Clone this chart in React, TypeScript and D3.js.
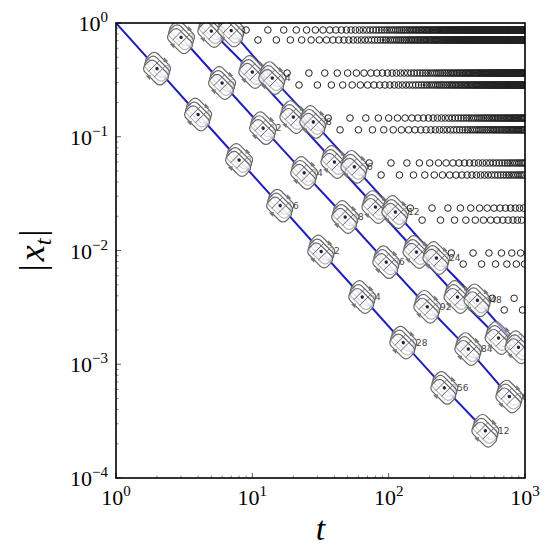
import React from 'react';
import * as d3 from 'd3';

// ---------- data ----------
const xTickExps = [0, 1, 2, 3];
const yTickExps = [0, -1, -2, -3, -4];

// four power-law trajectories (marker points), t = k * 2^n
const line1T = [2, 4, 8, 16, 32, 64, 128, 256, 512];
const line1Y = [0.397, 0.157, 0.0625, 0.0248, 0.0098, 0.0039, 0.00155, 0.00062, 0.00026];
const line1HeadT = 1;
const line1HeadY = 1;
const line2T = [3, 6, 12, 24, 48, 96, 192, 384, 768];
const line2Y = [0.75, 0.297, 0.119, 0.0481, 0.0197, 0.0079, 0.0032, 0.00136, 0.00052];
const line3T = [5, 10, 20, 40, 80, 160, 320, 640];
const line3Y = [0.85, 0.371, 0.149, 0.06, 0.0241, 0.0097, 0.0039, 0.0017];
const line4T = [7, 14, 28, 56, 112, 224, 448, 896];
const line4Y = [0.86, 0.328, 0.135, 0.0544, 0.0218, 0.0086, 0.00365, 0.00141];

// bounded orbits: bands of open circles (two alternating levels each)
const bandStartT = [9, 18, 36, 72, 144, 288, 576];
const bandStepT = [2, 4, 8, 16, 32, 64, 128];
const bandUpperY = [0.868, 0.363, 0.146, 0.0588, 0.0236, 0.0095, 0.0038];
const bandLowerY = [0.709, 0.285, 0.115, 0.0461, 0.0185, 0.0076, 0.003];
const tMax = 1000;

// ---------- layout ----------
const W = 550;
const H = 550;
const L = 116, R = 525, T = 23, B = 478;
const FONT = '"Liberation Serif", "DejaVu Serif", serif';

const x = d3.scaleLog().domain([1, 1000]).range([L, R]);
const y = d3.scaleLog().domain([1e-4, 1]).range([B, T]);

const BLUE = '#1f1fbf';
const MK = '#666666';

function Marker({ cx, cy }: { cx: number; cy: number }) {
  const offs = [-1, 0, 1];
  return (
    <g transform={`translate(${cx},${cy}) rotate(45)`}>
      {offs.map((o) => (
        <rect key={o} x={-13 + o * 2} y={-7.5 + o * 3.5} width={26} height={15} rx={5}
          fill="#ffffff" fillOpacity={0.55} stroke={MK} strokeWidth={1.2} />
      ))}
      <line x1={-4} y1={-8} x2={-4} y2={8} stroke={MK} strokeWidth={0.9} />
      <line x1={4} y1={-8} x2={4} y2={8} stroke={MK} strokeWidth={0.9} />
      <path d="M-3,-13 L3,-13 L0,-9 Z" fill="#777" />
      <path d="M-3,13 L3,13 L0,9 Z" fill="#777" />
      <circle r={1.7} fill="#222244" />
    </g>
  );
}

export default function App() {
  const lines = [
    { t: [line1HeadT, ...line1T], v: [line1HeadY, ...line1Y], mt: line1T, mv: line1Y },
    { t: line2T, v: line2Y, mt: line2T, mv: line2Y },
    { t: line3T, v: line3Y, mt: line3T, mv: line3Y },
    { t: line4T, v: line4Y, mt: line4T, mv: line4Y },
  ];
  const lineGen = d3.line<[number, number]>().x((d) => x(d[0])).y((d) => y(d[1]));

  const circles: { cx: number; cy: number }[] = [];
  bandStartT.forEach((s, j) => {
    let i = 0;
    for (let t = s; t <= tMax; t += bandStepT[j]) {
      const v = i % 2 === 0 ? bandUpperY[j] : bandLowerY[j];
      circles.push({ cx: x(t), cy: y(v) });
      i++;
    }
  });

  const minorX: number[] = [];
  for (let e = 0; e < 3; e++) for (let k = 2; k <= 9; k++) minorX.push(k * Math.pow(10, e));
  const minorY: number[] = [];
  for (let e = -4; e < 0; e++) for (let k = 2; k <= 9; k++) minorY.push(k * Math.pow(10, e));

  const markers: { cx: number; cy: number; t: number }[] = [];
  lines.forEach((ln) => ln.mt.forEach((t, i) => markers.push({ cx: x(t), cy: y(ln.mv[i]), t })));

  return (
    <svg width={W} height={H} style={{ position: 'absolute', left: 0, top: 0, background: '#fff' }}>
      <defs>
        <clipPath id="plot">
          <rect x={L} y={T} width={R - L} height={B - T} />
        </clipPath>
      </defs>
      <rect x={0} y={0} width={W} height={H} fill="#fff" />
      <g clipPath="url(#plot)">
        {lines.map((ln, i) => (
          <path key={i} d={lineGen(ln.t.map((t, k) => [t, ln.v[k]] as [number, number])) || ''}
            fill="none" stroke={BLUE} strokeWidth={2} />
        ))}
        {markers.map((m, i) => (
          <text key={'l' + i} x={m.cx + 7} y={m.cy + 3} fontSize={9}
            fontFamily='"DejaVu Sans", sans-serif' fill="#444">{m.t}</text>
        ))}
        {markers.map((m, i) => (
          <Marker key={'m' + i} cx={m.cx} cy={m.cy} />
        ))}
        {circles.map((c, i) => (
          <circle key={'c' + i} cx={c.cx} cy={c.cy} r={3.3} fill="none" stroke="#222" strokeWidth={1} />
        ))}
      </g>
      {/* ticks */}
      {xTickExps.map((e) => (
        <line key={'xt' + e} x1={x(Math.pow(10, e))} x2={x(Math.pow(10, e))} y1={B} y2={B - 5} stroke="#333" strokeWidth={0.8} />
      ))}
      {minorX.map((v) => (
        <line key={'xm' + v} x1={x(v)} x2={x(v)} y1={B} y2={B - 2.5} stroke="#555" strokeWidth={0.7} />
      ))}
      {yTickExps.map((e) => (
        <line key={'yt' + e} x1={L} x2={L + 5} y1={y(Math.pow(10, e))} y2={y(Math.pow(10, e))} stroke="#333" strokeWidth={0.8} />
      ))}
      {minorY.map((v) => (
        <line key={'ym' + v} x1={L} x2={L + 2.5} y1={y(v)} y2={y(v)} stroke="#555" strokeWidth={0.7} />
      ))}
      <rect x={L} y={T} width={R - L} height={B - T} fill="none" stroke="#000" strokeWidth={1.6} />
      {/* tick labels */}
      {xTickExps.map((e) => (
        <text key={'xl' + e} x={x(Math.pow(10, e))} y={505} textAnchor="middle" fontFamily={FONT} fontSize={22} fill="#000">
          10<tspan dy={-9} fontSize={15}>{e}</tspan>
        </text>
      ))}
      {yTickExps.map((e) => (
        <text key={'yl' + e} x={108} y={y(Math.pow(10, e)) + 8} textAnchor="end" fontFamily={FONT} fontSize={22} fill="#000">
          10<tspan dy={-9} fontSize={15}>{e === 0 ? '0' : '\u2212' + (-e)}</tspan>
        </text>
      ))}
      {/* axis titles */}
      <text x={(L + R) / 2} y={540} textAnchor="middle" fontFamily={FONT} fontStyle="italic" fontSize={34}>t</text>
      <text transform={`translate(44,${(T + B) / 2}) rotate(-90)`} textAnchor="middle" fontFamily={FONT} fontSize={36}>
        |<tspan fontStyle="italic" dx={3}>x</tspan><tspan fontStyle="italic" fontSize={24} dy={7}>t</tspan><tspan dy={-7} dx={2}>|</tspan>
      </text>
    </svg>
  );
}
